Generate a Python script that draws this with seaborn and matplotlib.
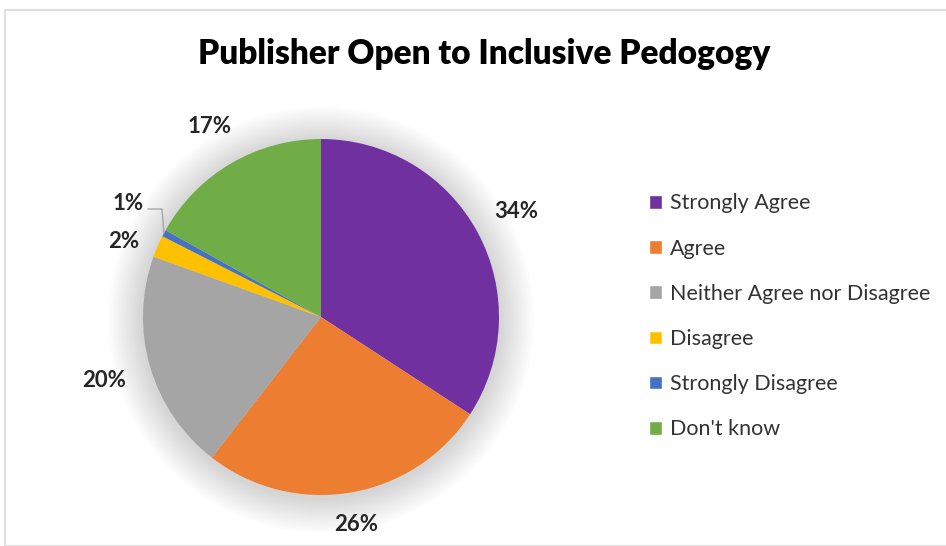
import matplotlib
matplotlib.use("Agg")
import matplotlib.pyplot as plt
import seaborn as sns
import numpy as np
from matplotlib.patches import Rectangle, Circle

categories = ["Strongly Agree", "Agree", "Neither Agree nor Disagree",
              "Disagree", "Strongly Disagree", "Don't know"]
values = [34.2, 26.3, 20.0, 2.0, 0.6, 16.9]
colors = ["#7030A0", "#ED7D31", "#A5A5A5", "#FFC000", "#4472C4", "#70AD47"]
title = "Publisher Open to Inclusive Pedogogy"

sns.set_theme(style="white")
plt.rcParams["font.family"] = ["Lato", "DejaVu Sans"]

W, H = 946, 546
fig = plt.figure(figsize=(W / 100, H / 100), dpi=100)
fig.patch.set_facecolor("white")
fig.patches.append(Rectangle((5 / W, 0), 1.2, (H - 10) / H, transform=fig.transFigure,
                             fill=False, edgecolor="#D9D9D9", linewidth=1.2))

cx, cy, r = 321, 317, 178
ax = fig.add_axes([(cx - r) / W, (H - cy - r) / H, 2 * r / W, 2 * r / H])

# soft shadow
for i in range(14):
    ax.add_patch(Circle((0.0, -0.015), 1.0 + 0.014 * (14 - i), color="black",
                        alpha=0.011, linewidth=0, zorder=0, clip_on=False))

wedges, texts = ax.pie(values, colors=colors, startangle=90, counterclock=False,
                       radius=1.0, wedgeprops=dict(linewidth=0))
for w in wedges:
    w.set_zorder(2)
ax.set_xlim(-1, 1)
ax.set_ylim(-1, 1)
ax.set_aspect("equal")
ax.axis("off")

lab_kw = dict(ha="center", va="center", fontsize=16, fontweight="bold", color="#262626")

# percentage labels
cum = np.cumsum([0] + values[:-1])
tot = sum(values)
dists = [1.25, 1.18, 1.27, None, None, 1.24]
for i, v in enumerate(values):
    if dists[i] is None:
        continue
    ang = np.deg2rad(90 - 360 * (cum[i] + v / 2) / tot)
    d = dists[i]
    ax.text(d * np.cos(ang), d * np.sin(ang), f"{round(v)}%", **lab_kw)

def px(x, y):
    return ((x - cx) / r, (cy - y) / r)

ax.text(*px(124, 242), f"{round(values[3])}%", **lab_kw)
ax.text(*px(128, 204), f"{round(values[4])}%", **lab_kw)
ang = np.deg2rad(90 - 360 * (cum[4] + values[4] / 2) / tot)
ax.plot([px(148, 209)[0], px(162, 209)[0], np.cos(ang)],
        [px(148, 209)[1], px(162, 209)[1], np.sin(ang)],
        color="#A6A6A6", linewidth=1, zorder=3, clip_on=False)

fig.text(484 / W, 1 - 54 / H, title, ha="center", va="center",
         fontsize=24, fontweight="heavy", color="black")

handles = [Rectangle((0, 0), 1, 1, facecolor=c) for c in colors]
leg = fig.legend(handles, categories, loc="upper left",
                 bbox_to_anchor=(630 / W, 1 - 174 / H), frameon=False,
                 fontsize=15.5, handlelength=0.6, handleheight=0.6,
                 handletextpad=0.35, labelspacing=1.17, labelcolor="#333333")

fig.savefig("out.png", dpi=100)
